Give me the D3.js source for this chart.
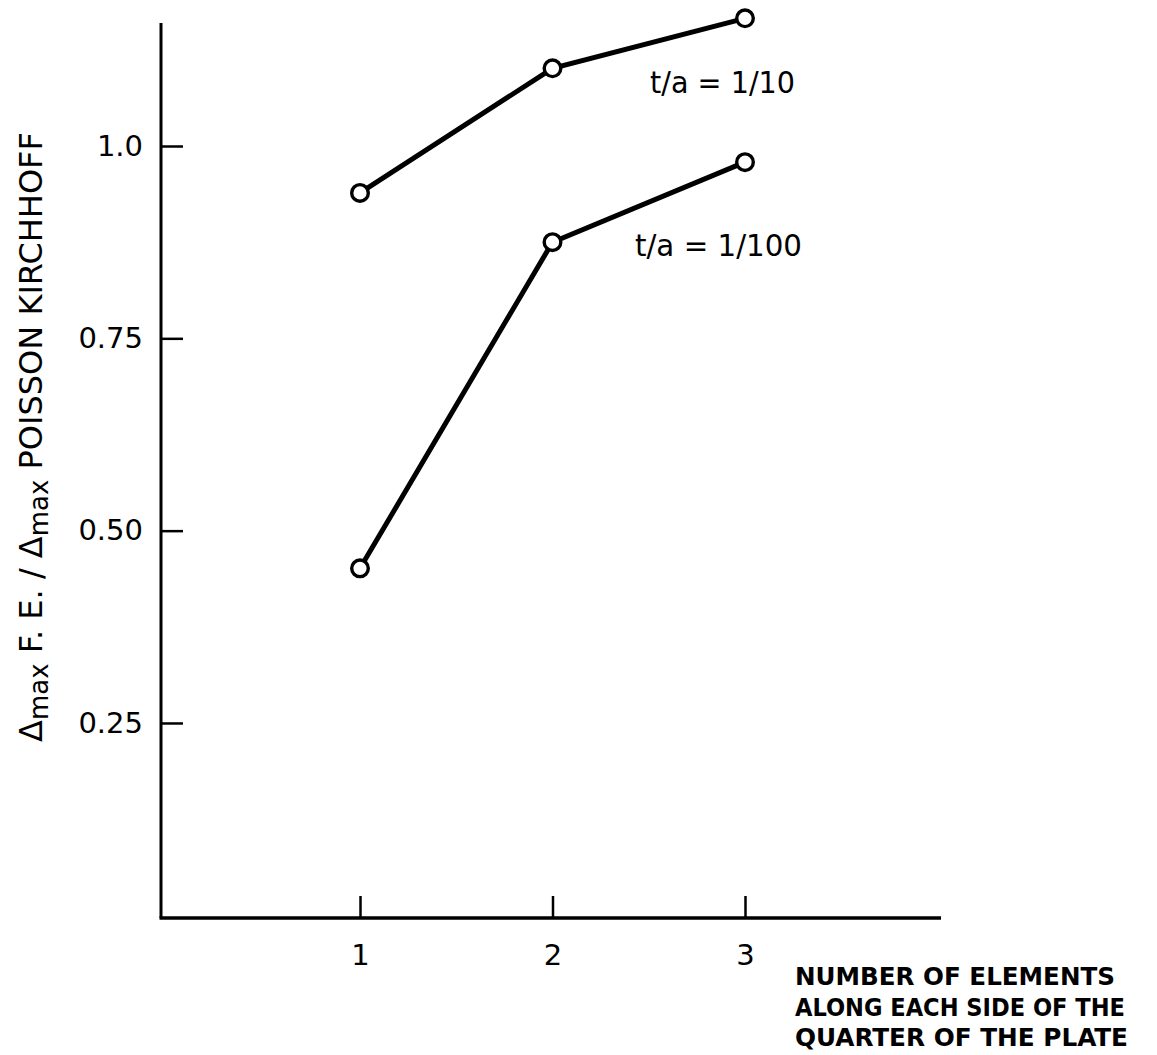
<!doctype html>
<html>
  <head>
    <meta charset="utf-8">
    <script src="https://d3js.org/d3.v7.min.js"></script>
    <style>
      body { margin: 0; background: #fff; }
      svg { display: block; }
      text { font-family: "DejaVu Sans", sans-serif; fill: #000; }
    </style>
  </head>
  <body>
    <svg id="chart" width="1157" height="1055"></svg>
    <script>
      // data
      var elements = [1, 2, 3];
      var thick10 = [0.939, 1.101, 1.166];   // t/a = 1/10
      var thick100 = [0.451, 0.875, 0.979];  // t/a = 1/100
      var seriesNames = ["t/a = 1/10", "t/a = 1/100"];
      var yTicks = [0.25, 0.50, 0.75, 1.0];
      var yTickLabels = ["0.25", "0.50", "0.75", "1.0"];
      var xTicks = [1, 2, 3];
      var xLabelLines = ["NUMBER OF ELEMENTS", "ALONG EACH SIDE OF THE", "QUARTER OF THE PLATE"];

      var svg = d3.select("#chart");

      var axisLeftX = 161, axisTopY = 23, axisBottomY = 918, axisRightX = 941;

      var x = d3.scaleLinear().domain([0, 4]).range([167.5, 937.5]);
      var y = d3.scaleLinear().domain([0, 1]).range([915.3, 146]);

      // axes lines
      svg.append("line")
        .attr("x1", axisLeftX).attr("x2", axisLeftX)
        .attr("y1", axisTopY).attr("y2", axisBottomY)
        .attr("stroke", "#000").attr("stroke-width", 3);
      svg.append("line")
        .attr("x1", axisLeftX - 1.5).attr("x2", axisRightX)
        .attr("y1", axisBottomY).attr("y2", axisBottomY)
        .attr("stroke", "#000").attr("stroke-width", 3.5);

      // y axis ticks, pointing inward
      var yAxis = svg.append("g")
        .attr("transform", "translate(" + axisLeftX + ",0)")
        .call(d3.axisLeft(y)
          .tickValues(yTicks)
          .tickSize(-22)
          .tickPadding(18)
          .tickFormat(function(d, i) { return yTickLabels[i]; }));
      yAxis.select(".domain").remove();
      yAxis.selectAll(".tick line").attr("stroke", "#000").attr("stroke-width", 2.5);
      yAxis.selectAll(".tick text")
        .style("font-family", "DejaVu Sans, sans-serif")
        .attr("font-size", 29)
        .attr("fill", "#000");

      // x axis ticks, pointing inward
      var xAxis = svg.append("g")
        .attr("transform", "translate(0," + axisBottomY + ")")
        .call(d3.axisBottom(x)
          .tickValues(xTicks)
          .tickSize(-22)
          .tickPadding(26)
          .tickFormat(d3.format("d")));
      xAxis.select(".domain").remove();
      xAxis.selectAll(".tick line").attr("stroke", "#000").attr("stroke-width", 2.5);
      xAxis.selectAll(".tick text")
        .style("font-family", "DejaVu Sans, sans-serif")
        .attr("font-size", 29)
        .attr("fill", "#000");

      // lines and markers
      var line = d3.line()
        .x(function(d) { return x(d[0]); })
        .y(function(d) { return y(d[1]); });

      [thick10, thick100].forEach(function(vals) {
        var pts = elements.map(function(e, i) { return [e, vals[i]]; });
        svg.append("path")
          .datum(pts)
          .attr("d", line)
          .attr("fill", "none")
          .attr("stroke", "#000")
          .attr("stroke-width", 5);
        svg.selectAll(null)
          .data(pts)
          .enter()
          .append("circle")
            .attr("cx", function(d) { return x(d[0]); })
            .attr("cy", function(d) { return y(d[1]); })
            .attr("r", 8.3)
            .attr("fill", "#fff")
            .attr("stroke", "#000")
            .attr("stroke-width", 3.4);
      });

      // series labels
      svg.append("text")
        .attr("x", 650).attr("y", 93)
        .attr("font-size", 30)
        .attr("textLength", 145).attr("lengthAdjust", "spacingAndGlyphs")
        .text(seriesNames[0]);
      svg.append("text")
        .attr("x", 635).attr("y", 256)
        .attr("font-size", 30)
        .attr("textLength", 167).attr("lengthAdjust", "spacingAndGlyphs")
        .text(seriesNames[1]);

      // x axis label, three lines
      var xLabelWidths = [320, 330, 333];
      svg.selectAll(".xlab")
        .data(xLabelLines)
        .enter()
        .append("text")
          .attr("class", "xlab")
          .attr("x", 795)
          .attr("y", function(d, i) { return 985 + i * 30.5; })
          .attr("font-size", 25)
          .attr("font-weight", "bold")
          .style("font-family", "'DejaVu Sans Condensed', 'DejaVu Sans', sans-serif")
          .attr("textLength", function(d, i) { return xLabelWidths[i]; })
          .attr("lengthAdjust", "spacingAndGlyphs")
          .text(function(d) { return d; });

      // y axis label, rotated, with subscripts
      var ylab = svg.append("text")
        .attr("transform", "translate(42,742) rotate(-90)")
        .attr("font-size", 32);
      ylab.append("tspan").text("Δ");
      ylab.append("tspan").attr("dy", 6).attr("font-size", 26).text("max");
      ylab.append("tspan").attr("dy", -6).text(" F. E.  /  Δ");
      ylab.append("tspan").attr("dy", 6).attr("font-size", 26).text("max");
      ylab.append("tspan").attr("dy", -6).text(" POISSON  KIRCHHOFF");
    </script>
  </body>
</html>
